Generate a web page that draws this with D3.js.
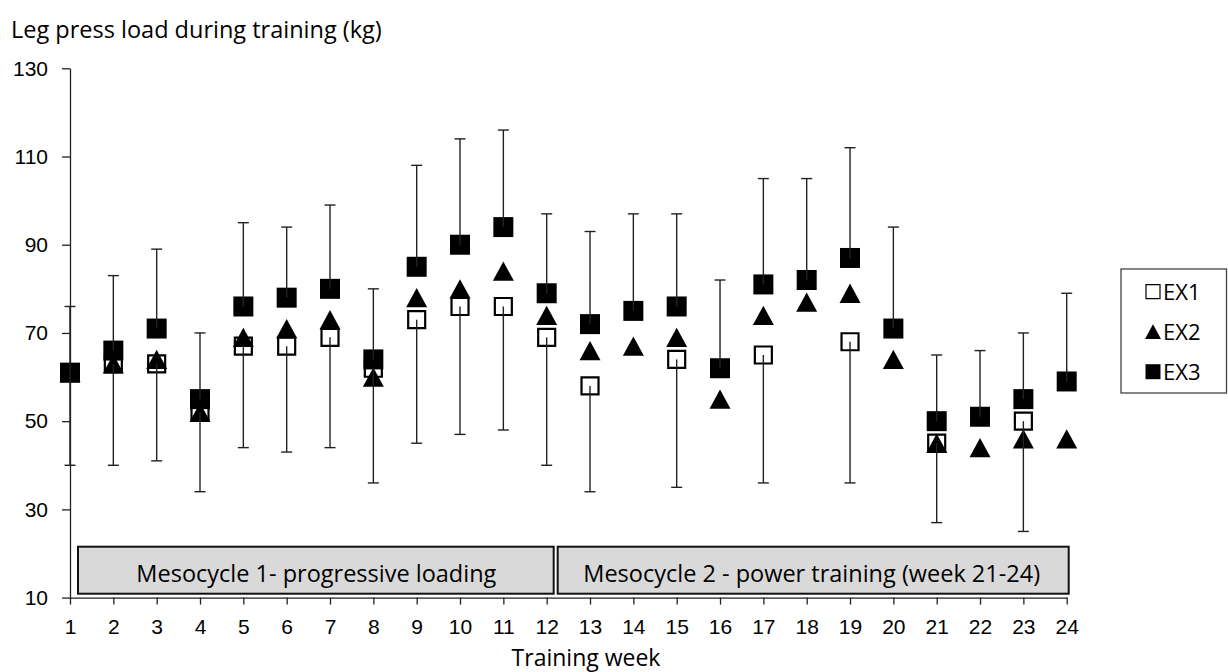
<!DOCTYPE html>
<html>
<head>
<meta charset="utf-8">
<script src="https://cdn.jsdelivr.net/npm/d3@7"></script>
<style>
  body { margin: 0; background: #fff; }
  svg { display: block; font-family: "Open Sans", sans-serif; }
  .axis path, .axis line { stroke: #222; stroke-width: 1.3px; }
  .axis text { fill: #000; font-size: 21px; }
</style>
</head>
<body>
<div class="chart"></div>
<script>
var svgWidth = 1228;
var svgHeight = 672;

// Data
var weeks = [1, 2, 3, 4, 5, 6, 7, 8, 9, 10, 11, 12, 13, 14, 15, 16, 17, 18, 19, 20, 21, 22, 23, 24];
var ex1 = [61, 63, 63, 52, 67, 67, 69, 62, 73, 76, 76, 69, 58, null, 64, null, 65, null, 68, null, 45, null, 50, null];
var ex2 = [61, 63, 64, 52, 69, 71, 73, 60, 78, 80, 84, 74, 66, 67, 69, 55, 74, 77, 79, 64, 45, 44, 46, 46];
var ex3 = [61, 66, 71, 55, 76, 78, 80, 64, 85, 90, 94, 79, 72, 75, 76, 62, 81, 82, 87, 71, 50, 51, 55, 59];
// SD shown as minus bars on EX1 and plus bars on EX3
var ex1Sd = [21, 23, 22, 18, 23, 24, 25, 26, 28, 29, 28, 29, 24, null, 29, null, 29, null, 32, null, 18, null, 25, null];
var ex3Sd = [15, 17, 18, 15, 19, 16, 19, 16, 23, 24, 22, 18, 21, 22, 21, 20, 24, 23, 25, 23, 15, 15, 15, 20];
var yTicks = [10, 30, 50, 70, 90, 110, 130];
var seriesNames = ["EX1", "EX2", "EX3"];
var phases = [
    {label: "Mesocycle 1- progressive loading", from: 1, to: 12},
    {label: "Mesocycle 2 - power training (week 21-24)", from: 12, to: 24}
];

var svg = d3.select(".chart")
    .append("svg")
    .attr("width", svgWidth)
    .attr("height", svgHeight);

// Scales
var xScale = d3.scaleLinear()
    .domain([1, 24])
    .range([70, 1066.7]);

var yScale = d3.scaleLinear()
    .domain([10, 130])
    .range([597.6, 68.3]);

// Axes
var leftAxis = d3.axisLeft(yScale)
    .tickValues(yTicks)
    .tickSizeInner(8)
    .tickSizeOuter(0)
    .tickPadding(14);

var bottomAxis = d3.axisBottom(xScale)
    .tickValues(weeks)
    .tickSizeInner(7)
    .tickSizeOuter(0)
    .tickPadding(14)
    .tickFormat(d3.format("d"));

svg.append("g")
    .attr("class", "axis")
    .attr("transform", `translate(${xScale(1)}, 0)`)
    .call(leftAxis);

svg.append("g")
    .attr("class", "axis")
    .attr("transform", `translate(0, ${yScale(10)})`)
    .call(bottomAxis);

// Mesocycle boxes
var boxes = svg.selectAll(".phase")
    .data(phases)
    .enter()
    .append("g")
    .attr("class", "phase");

boxes.append("rect")
    .attr("x", (d, i) => xScale(d.from) + (i === 0 ? 8 : 11))
    .attr("y", 546.7)
    .attr("width", (d, i) => xScale(d.to) - xScale(d.from) + (i === 0 ? -1 : -9))
    .attr("height", 47)
    .attr("fill", "#d9d9d9")
    .attr("stroke", "#111")
    .attr("stroke-width", 2);

boxes.append("text")
    .attr("x", (d, i) => (xScale(d.from) + xScale(d.to)) / 2 + (i === 0 ? 8 : 5))
    .attr("y", 582)
    .attr("text-anchor", "middle")
    .style("font-size", "23.5px")
    .text(d => d.label);

// Markers
var squareType = {
    draw: function(context, size) {
        var w = Math.sqrt(size) / 2;
        context.rect(-w, -w, 2 * w, 2 * w);
    }
};
var triangleType = {
    draw: function(context, size) {
        var w = Math.sqrt(size);
        var h = w * 0.92;
        context.moveTo(0, -h / 2);
        context.lineTo(w / 2, h / 2);
        context.lineTo(-w / 2, h / 2);
        context.closePath();
    }
};

function pointsOf(values) {
    return weeks.map((w, i) => ({week: w, value: values[i]}))
        .filter(d => d.value !== null);
}

svg.append("g").selectAll("path")
    .data(pointsOf(ex1))
    .enter()
    .append("path")
    .attr("transform", d => `translate(${xScale(d.week)}, ${yScale(d.value)})`)
    .attr("d", d3.symbol().type(squareType).size(17 * 17))
    .attr("fill", "#fff")
    .attr("stroke", "#000")
    .attr("stroke-width", 2.2);

svg.append("g").selectAll("path")
    .data(pointsOf(ex2))
    .enter()
    .append("path")
    .attr("transform", d => `translate(${xScale(d.week)}, ${yScale(d.value)})`)
    .attr("d", d3.symbol().type(triangleType).size(21 * 21))
    .attr("fill", "#000");

svg.append("g").selectAll("path")
    .data(pointsOf(ex3))
    .enter()
    .append("path")
    .attr("transform", d => `translate(${xScale(d.week)}, ${yScale(d.value)})`)
    .attr("d", d3.symbol().type(squareType).size(20 * 20))
    .attr("fill", "#000");

// Error bars (drawn over the markers)
var bars = [];
weeks.forEach(function(w, i) {
    if (ex1[i] !== null && ex1Sd[i] !== null) {
        bars.push({week: w, from: ex1[i], to: ex1[i] - ex1Sd[i]});
    }
    if (ex3[i] !== null && ex3Sd[i] !== null) {
        bars.push({week: w, from: ex3[i], to: ex3[i] + ex3Sd[i]});
    }
});

var barGroup = svg.append("g")
    .attr("stroke", "#222")
    .attr("stroke-width", 1.4);

barGroup.selectAll(".stem")
    .data(bars)
    .enter()
    .append("line")
    .attr("x1", d => xScale(d.week))
    .attr("x2", d => xScale(d.week))
    .attr("y1", d => yScale(d.from))
    .attr("y2", d => yScale(d.to));

barGroup.selectAll(".cap")
    .data(bars)
    .enter()
    .append("line")
    .attr("x1", d => xScale(d.week) - 5.5)
    .attr("x2", d => xScale(d.week) + 5.5)
    .attr("y1", d => yScale(d.to))
    .attr("y2", d => yScale(d.to));

// Axis titles
svg.append("text")
    .attr("x", 11)
    .attr("y", 38)
    .style("font-size", "23.5px")
    .text("Leg press load during training (kg)");

svg.append("text")
    .attr("x", 586)
    .attr("y", 666)
    .attr("text-anchor", "middle")
    .style("font-size", "23px")
    .text("Training week");

// Legend
var legend = svg.append("g")
    .attr("transform", "translate(1121, 269)");

legend.append("rect")
    .attr("width", 105.5)
    .attr("height", 124)
    .attr("fill", "#fff")
    .attr("stroke", "#444")
    .attr("stroke-width", 1.3);

var legendItems = legend.selectAll(".item")
    .data(seriesNames)
    .enter()
    .append("g")
    .attr("transform", (d, i) => `translate(32, ${22.7 + i * 40})`);

legendItems.append("path")
    .attr("d", (d, i) => d3.symbol()
        .type(i === 1 ? triangleType : squareType)
        .size(i === 1 ? 16 * 16 : (i === 0 ? 14 * 14 : 15 * 15))())
    .attr("fill", (d, i) => i === 0 ? "#fff" : "#000")
    .attr("stroke", (d, i) => i === 0 ? "#000" : "none")
    .attr("stroke-width", 1.2);

legendItems.append("text")
    .attr("x", 10)
    .attr("y", 8)
    .style("font-size", "22px")
    .text(d => d);
</script>
</body>
</html>
